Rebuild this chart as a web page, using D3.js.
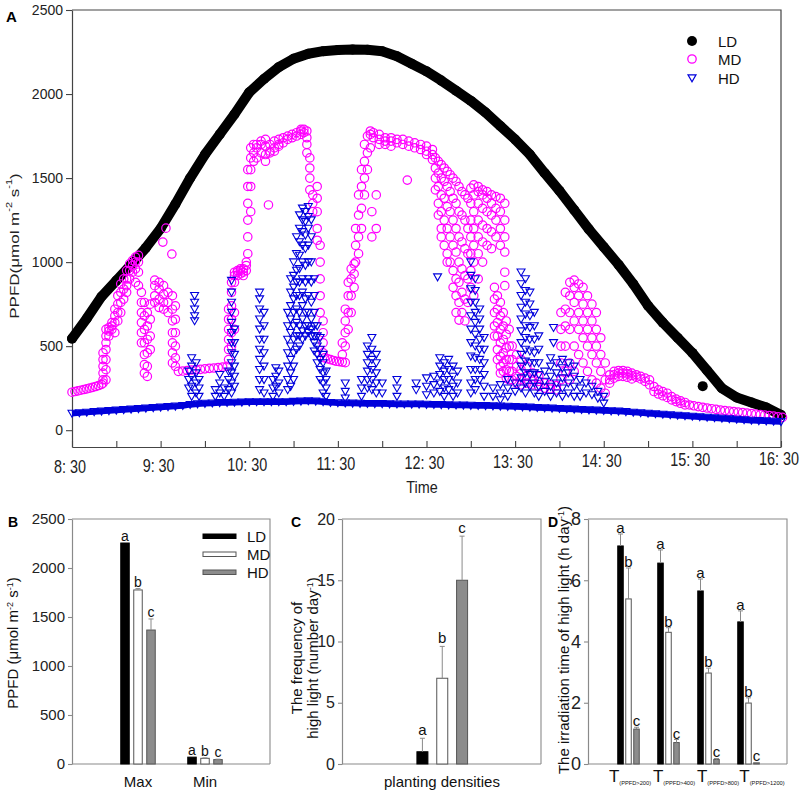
<!DOCTYPE html>
<html><head><meta charset="utf-8">
<script src="https://cdn.jsdelivr.net/npm/d3@7"></script>
<style>
body{margin:0;background:#fff;}
svg{font-family:"Liberation Sans", Arial, sans-serif;}
</style></head><body>
<svg id="c" width="800" height="810"></svg>
<script>
// ---------- DATA ----------
// Panel A: minutes after 8:30
const timeTicks = d3.range(0, 481, 30);
const timeLabels = ["8: 30","9: 30","10: 30","11: 30","12: 30","13: 30","14: 30","15: 30","16: 30"];
const ppfdTicks = [0,500,1000,1500,2000,2500];

const ldTrace = [[0,545],[10,665],[20,795],[30,890],[40,985],[50,1085],[60,1200],[70,1345],[80,1500],[90,1640],[100,1760],[110,1880],[120,2010],[130,2090],[140,2160],[150,2210],[160,2240],[170,2255],[180,2262],[190,2265],[200,2263],[210,2255],[220,2225],[230,2180],[240,2135],[250,2080],[260,2020],[270,1960],[280,1890],[290,1810],[300,1730],[310,1640],[320,1530],[330,1425],[340,1310],[350,1195],[360,1090],[370,985],[380,870],[390,740],[400,640],[410,550],[420,460],[430,355],[440,250],[450,195],[460,165],[470,135],[480,90]];
const ldOutliers = [[427,262]];

// [minute, value, value, ...]
const mdTrace = [
[0,226],[2,230],[4,234],[6,238],[8,242],[10,246],[12,250],[14,255],[16,260],[18,266],[20,272],[21,280,300,340,380,420,460],
[23,300,360,420,480,520,560,600],[25,560,590,610],[27,600,620,640],
[29,580,640,680,720],[31,650,700,750,800],[33,700,760,820,870],[35,780,840,900],[37,820,860,900,950],[39,900,950,990],[41,940,980,1010],[43,880,960,1000,1030],[45,860,940,1000,1040],
[47,520,580,640,700,760,820],[49,340,390,450,520,600,680,760],[51,320,380,460,540,620,700],[53,480,560,660,750],
[56,760,800,860,893],[59,730,780,840,880],[62,720,760,810,860],[65,700,760,820],[68,400,460,520,580,650,720,800],[70,380,430,500,580,660,740],
[61.5,1119],[63.6,1202],[67.6,1048],
[72,350],[75,352],[78,355],[81,358],[84,360],[87,362],[90,365],[93,368],[96,370],[99,373],[102,376],[105,380],
[106,420,480,540,600,660,720],[108,500,580,660,740,820,880],[110,600,700,880,920,940],
[112,920,940,950],[114,930,950,960],[116,920,940,960],[118,950,980,1000],
[119,1050,1150,1250,1350,1450,1550],[121,1300,1450,1550,1620,1680],[123,1600,1650,1700],[133,1340],
[125,1620,1680,1700],[128,1650,1700,1720],[131,1600,1640,1690,1730],[134,1650,1660,1700],[137,1660,1680,1720],[140,1690,1700,1730],[143,1710,1740],[146,1730,1750],[149,1740,1760],[152,1750,1770],[155,1760,1780,1790],[157,1770,1790],
[159,1650,1700,1740,1780],[161,1430,1500,1560,1620],[163,1300,1350,1400],[166,1130,1200,1300,1380,1450],[168,700,800,900,1000,1100],[170,460,520,580,650],
[171,430],[173,425],[175,420],[177,415],[179,410],[181,408],[183,405,450,520],[185,402,500,580,650,720],
[187,600,700,800,880],[189,700,800,900,960],[191,850,930,990],
[192,1000,1100,1200],[194,1050,1150,1280,1400],[196,1200,1320,1450,1550],[198,1400,1500,1600,1700],[200,1550,1650,1750],[202,1680,1760,1780],[204,1740,1770],[203,1150,1300],[206,1200,1400],
[208,1700,1730,1760],[212,1700,1720,1740],[216,1690,1720,1740],[220,1710,1730],[224,1700,1730],[228,1690,1720],[227,1488],[232,1680,1710],[236,1670,1700],[240,1640,1660,1690],[244,1610,1640,1670],
[246,1430,1500,1560,1620],[248,1280,1350,1450,1530,1600],[250,1150,1200,1300,1400,1500,1580],[252,1100,1250,1380,1480,1560],[254,1000,1050,1200,1330,1450,1540],[256,1000,1150,1300,1420,1520],[258,850,950,1100,1250,1380,1500],[260,700,800,900,1060,1200,1350,1480],
[262,655,760,880,1000,1150,1300,1450],[264,700,820,960,1120,1280,1420],[266,650,780,920,1080,1250,1400],[268,760,900,1050,1200,1380],
[270,850,950,1050,1150,1250,1350,1440],[272,800,1000,1100,1200,1300,1400,1460],[275,900,1050,1150,1250,1350,1420,1450],[278,1000,1120,1220,1320,1400,1430],[281,1100,1200,1300,1380,1420],[284,1080,1180,1280,1350,1400],[287,1150,1250,1320,1390],[290,1100,1200,1300,1380],[293,860,940,1060,1150,1250,1350],
[286,560,620,700,780,850],[288,420,480,560,640,720,800],[290,340,380,440,520,600,680,760],[292,350,400,460,540,620,700],[294,310,360,420,490,570,650],[296,300,350,420,500,600],
[298,300,350,420,500],[301,280,320,380,450],[304,270,300,360,420],[308,280,320,380],[312,270,300,340],[316,260,290,320],
[320,250,280],[324,245,270],[328,240,265],
[331,300,400,500,600,700],[334,350,500,620,720,820],[337,300,400,600,700,800,880],[340,350,500,650,760,850,893],[343,450,600,700,800,870],[346,400,550,650,750,850],[349,350,500,600,700,800],[352,300,450,550,650,750],[355,280,400,500,600,700],[358,250,350,450,550],[361,220,300,400],
[364,280,300,330],[367,310,330,350],[370,320,340,355],[373,320,340,355],[376,315,335,350],[379,305,325,340],[382,315,330],[385,305,320],[388,290,310],[391,270,300],
[394,230,260],[397,215,240],[400,205,230],[403,195,220],[406,180,200],[409,170,185],[412,160,175],[415,150,165],
[418,150],[421,145],[424,140],[427,136],[430,132],[433,128],[436,124],[439,120],[442,117],[445,114],[448,111],[451,108],[454,105],[457,102],[460,99],[463,96],[466,93],[469,90],[472,87],[475,84],[478,80],[481,76]
];

const hdBase = [[0,100],[5,103],[10,106],[15,109],[20,112],[25,115],[30,118],[35,121],[40,124],[45,127],[50,130],[55,133],[60,136],[65,139],[70,142],[75,146],[80,152],[85,156],[90,159],[95,161],[100,163],[105,164],[110,165],[115,166],[120,167],[125,168],[130,168],[135,168],[140,168],[145,168],[150,170],[155,172],[160,174],[165,172],[170,168],[175,164],[180,162],[185,161],[190,160],[195,159],[200,158],[205,157],[210,157],[215,156],[220,155],[225,155],[230,154],[235,154],[240,153],[245,152],[250,151],[255,150],[260,149],[265,148],[270,147],[275,146],[280,145],[285,144],[290,142],[295,141],[300,140],[305,138],[310,136],[315,134],[320,132],[325,130],[330,128],[335,126],[340,124],[345,122],[350,120],[355,118],[360,116],[365,114],[370,112],[375,109],[380,106],[385,103],[390,100],[395,97],[400,94],[405,91],[410,88],[415,85],[420,82],[425,79],[430,76],[435,73],[440,70],[445,67],[450,64],[455,61],[460,58],[465,56],[470,54],[475,52],[480,50]];

const hdSpikes = [
[79,250,300,350],[81,200,260,320,380,430],[83,650,680,720,760,800],[84,220,280,340,400],[86,200,250,300],
[97,200,240],[100,220,280,330],[103,200,250],[106,240,300,350],
[108,220,280,340,400,460,520,580,640,700,760,820,890],[110,260,320,380,450,520,600],
[127,240,300,360,420,480,540,600,660,720,780,820],[130,220,300,380,460,540,620,700],
[136,200,250,300],[138,260,320,370],[140,220,280,350],
[146,240,300,380,460,540,620,700],[148,260,340,420,500,580,660,740,820,900],[150,300,380,460,540,620,700,780,850,920,1000],[152,480,560,640,720,800,880,950,1050,1150],[154,500,560,620,700,800,880,960,1040,1120,1200,1280],[156,540,590,660,740,820,900,1000,1100,1180,1250,1320],[158,560,620,700,780,880,980,1080,1160,1240,1300],[160,580,620,700,800,900,1000,1100,1200,1270,1330],[162,560,600,660,760,880,1000,1150,1250],[164,470,520,560,620,700,800,900],[166,400,450,500,560,620],[168,300,360,420,480,550],[170,220,280,340,400,450],[172,200,250,300,350],
[185,190,230,280],
[196,200,250,300],[200,250,300,350,400,450,500],[203,240,300,360,420,480,550],[206,220,280,340,400,450],[210,220,280],
[220,200,250,300],
[233,240,280],[240,210,260,310],[245,220,270,320],[247.5,911],[249,230,280,330,380,430],[252,200,250,300,350,400],[255,240,300,360,420],[258,200,260,320,380],[261,220,280,350],
[270,220,280,360,440,520,600,680,760,840,920,1000],[273,240,300,360,430,500,570,640,700,760,830,900],[276,300,360,420,480,540,600,660,720],[279,200,260,330,400,480,550],
[285,200,250],[290,180,220,270],[295,200,250,300],[300,230,280],
[304,250,310,380,450,520,590,660,730,800,870,940],[307,220,280,340,410,480,550,620,690,760,830,900],[310,260,330,400,470,540,610,680,750,820],[313,220,280,340,400,460,540,620,700],[316,200,260,330,400,480,560],
[320,230,290,350],[324,200,260,320,380,430],[326,520,610],[328,220,280,340,400],[332,200,250,310,370,420],[336,220,280,340,400],[340,200,260,320,380],[344,200,250,300],[348,220,280],[352,210,260],[356,190,230],[360,160,200]
];

// Panel B
const bCats = ["Max","Min"];
const bLD = [2255, 70], bLDErr = [0, 0];
const bMD = [1776, 58], bMDErr = [14, 4];
const bHD = [1367, 45], bHDErr = [113, 4];
const bLetters = [["a","b","c"],["a","b","c"]];
const bTicks = [0,500,1000,1500,2000,2500];

// Panel C
const cLabels = ["LD","MD","HD"];
const cVal = [1, 7, 15], cErr = [1.1, 2.6, 3.6];
const cLetters = ["a","b","c"];
const cTicks = [0,5,10,15,20];

// Panel D
const dCats = ["(PPFD>200)","(PPFD>400)","(PPFD>800)","(PPFD>1200)"];
const dLD = [7.12, 6.56, 5.65, 4.64], dLDErr = [0.39, 0.43, 0.39, 0.36];
const dMD = [5.39, 4.30, 2.97, 1.99], dMDErr = [1.01, 0.15, 0.16, 0.17];
const dHD = [1.14, 0.70, 0.15, 0.04], dHDErr = [0.06, 0.10, 0.03, 0.01];
const dLetters = ["a","b","c"];
const dTicks = [0,2,4,6,8];

const series = ["LD","MD","HD"];
const barFill = {LD:"#000", MD:"#fff", HD:"#8c8c8c"};
const barStroke = {LD:"#000", MD:"#555", HD:"#555"};

// ---------- DRAW ----------
const FONT = "Liberation Sans, Arial, sans-serif";
const svg = d3.select("#c");
const flat = a => a.flatMap(([t, ...vs]) => vs.map(v => [t, v]));
const fmt = d3.format("d");

// ===== Panel A =====
const xA = d3.scaleLinear().domain([0,480]).range([72,781]);
const yA = d3.scaleLinear().domain([-100,2500]).range([447,10]);
const gA = svg.append("g");

const styleAxis = (g, col, fs) => {
  g.attr("font-family", FONT).attr("font-size", fs);
  g.select(".domain").attr("stroke", col).attr("stroke-width", 1.2);
  g.selectAll(".tick line").attr("stroke", col).attr("stroke-width", 1.1);
  g.selectAll(".tick text").attr("fill", "#222");
};

gA.append("path").attr("d","M72,10H781V447").attr("fill","none").attr("stroke","#444").attr("stroke-width",1.2);
const axAL = gA.append("g").attr("transform","translate(72,0)")
  .call(d3.axisLeft(yA).tickValues(ppfdTicks).tickFormat(fmt).tickSize(6).tickSizeOuter(0).tickPadding(3));
styleAxis(axAL, "#444", 14);
const axAB = gA.append("g").attr("transform","translate(0,447)")
  .call(d3.axisBottom(xA).tickValues(timeTicks).tickSizeInner(-6).tickSizeOuter(0).tickFormat(""));
styleAxis(axAB, "#444", 14);

timeLabels.forEach((s, i) => {
  gA.append("text").attr("transform", `translate(${xA(i*60) - 2},${466 - i}) scale(0.8,1)`)
    .attr("text-anchor","middle").attr("dominant-baseline","central")
    .attr("font-size",18).attr("fill","#222").text(s);
});
gA.append("text").attr("transform","translate(422,487) scale(0.9,1)").attr("text-anchor","middle")
  .attr("dominant-baseline","central").attr("font-size",16).attr("fill","#222").text("Time");

// y label A
{
  const t = gA.append("text").attr("transform","translate(18.5,246) scale(0.78,1) rotate(-90)")
    .attr("text-anchor","middle").attr("font-size",17).attr("fill","#222");
  t.append("tspan").text("PPFD(μmol m");
  t.append("tspan").attr("dy",-8).attr("font-size",11).text("-2");
  t.append("tspan").attr("dy",8).attr("font-size",17).text(" s");
  t.append("tspan").attr("dy",-8).attr("font-size",11).text("-1");
  t.append("tspan").attr("dy",8).attr("font-size",17).text(")");
}
gA.append("text").attr("x",6).attr("y",22).attr("font-size",15).attr("font-weight","bold").text("A");

// LD
const lineA = d3.line().x(d => xA(d[0])).y(d => yA(d[1])).curve(d3.curveLinear);
gA.append("path").datum(ldTrace).attr("d", lineA).attr("fill","none").attr("stroke","#000")
  .attr("stroke-width",10).attr("stroke-linecap","round").attr("stroke-linejoin","round");
gA.append("g").selectAll("circle").data(ldTrace.concat(ldOutliers)).join("circle")
  .attr("cx", d => xA(d[0])).attr("cy", d => yA(d[1])).attr("r",5).attr("fill","#000");

// MD
const MDC = "#f0f";
gA.append("g").selectAll("circle").data(flat(mdTrace)).join("circle")
  .attr("cx", d => xA(d[0])).attr("cy", d => yA(d[1])).attr("r",4.2)
  .attr("fill","none").attr("stroke",MDC).attr("stroke-width",1.2);

// HD
const HDC = "#0000dc";
const tri = "M-4,-3.2L4,-3.2L0,3.8Z";
gA.append("path").datum(hdBase).attr("d", lineA).attr("fill","none").attr("stroke",HDC)
  .attr("stroke-width",6).attr("stroke-linejoin","round");
gA.append("g").selectAll("path").data(hdBase.concat(flat(hdSpikes))).join("path")
  .attr("d", tri).attr("transform", d => `translate(${xA(d[0])},${yA(d[1])})`)
  .attr("fill","none").attr("stroke",HDC).attr("stroke-width",1.1);

// legend A
const legA = gA.append("g");
legA.append("circle").attr("cx",692).attr("cy",41).attr("r",5).attr("fill","#000");
legA.append("circle").attr("cx",692).attr("cy",59).attr("r",4.2).attr("fill","none").attr("stroke",MDC).attr("stroke-width",1.3);
legA.append("path").attr("d",tri).attr("transform","translate(692,78)").attr("fill","none").attr("stroke",HDC).attr("stroke-width",1.2);
series.forEach((s,i) => legA.append("text").attr("x",718).attr("y",[41,59,78][i])
  .attr("dominant-baseline","central").attr("font-size",15).attr("fill","#111").text(s));

// ===== generic bar helpers =====
function frame(g, l, r, t, b) {
  g.append("path").attr("d",`M${l},${t}H${r}V${b}`).attr("fill","none").attr("stroke","#8a8a8a").attr("stroke-width",1.1);
}
function bar(g, cx, w, y, v, err, s) {
  g.append("rect").attr("x", cx - w/2).attr("y", y(v)).attr("width", w).attr("height", y(0) - y(v))
    .attr("fill", barFill[s]).attr("stroke", barStroke[s]).attr("stroke-width", 1);
  if (err > 0) {
    g.append("line").attr("x1",cx).attr("x2",cx).attr("y1",y(v)).attr("y2",y(v+err)).attr("stroke","#8a8a8a").attr("stroke-width",1);
    g.append("line").attr("x1",cx-2.5).attr("x2",cx+2.5).attr("y1",y(v+err)).attr("y2",y(v+err)).attr("stroke","#8a8a8a").attr("stroke-width",1);
  }
}
function letter(g, cx, yy, s, fs) {
  g.append("text").attr("x",cx).attr("y",yy).attr("text-anchor","middle").attr("font-size",fs).attr("fill","#111").text(s);
}

// ===== Panel B =====
const gB = svg.append("g");
const yB = d3.scaleLinear().domain([0,2500]).range([764,519]);
const xB = d3.scalePoint().domain(bCats).range([138,205]);
const offB = d3.scaleBand().domain(series).range([-19.5,19.5]);
frame(gB, 72, 270, 519, 764);
const axBL = gB.append("g").attr("transform","translate(72,0)")
  .call(d3.axisLeft(yB).tickValues(bTicks).tickFormat(fmt).tickSize(4).tickSizeOuter(0).tickPadding(3));
styleAxis(axBL, "#8a8a8a", 15);
gB.append("line").attr("x1",72).attr("x2",270).attr("y1",764).attr("y2",764).attr("stroke","#8a8a8a").attr("stroke-width",1.1);
const bVals = {LD:bLD, MD:bMD, HD:bHD}, bErrs = {LD:bLDErr, MD:bMDErr, HD:bHDErr};
bCats.forEach((c, ci) => {
  series.forEach((s, si) => {
    const cx = xB(c) + offB(s) + offB.bandwidth()/2;
    bar(gB, cx, 8.5, yB, bVals[s][ci], bErrs[s][ci], s);
    letter(gB, cx, yB(bVals[s][ci] + bErrs[s][ci]) - 2, bLetters[ci][si], 14);
  });
  gB.append("text").attr("x", xB(c)).attr("y", 787).attr("text-anchor","middle").attr("font-size",15).attr("fill","#111").text(c);
});
series.forEach((s, i) => {
  gB.append("rect").attr("x",203).attr("y",534 + i*18).attr("width",33).attr("height",4.5)
    .attr("fill",barFill[s]).attr("stroke",barStroke[s]).attr("stroke-width",1);
  gB.append("text").attr("x",247).attr("y",536 + i*18).attr("dominant-baseline","central").attr("font-size",15).attr("fill","#111").text(s);
});
{
  const t = gB.append("text").attr("transform","translate(18,643) rotate(-90)").attr("text-anchor","middle").attr("font-size",15).attr("fill","#111");
  t.append("tspan").text("PPFD (μmol m");
  t.append("tspan").attr("dy",-5).attr("font-size",9).text("-2");
  t.append("tspan").attr("dy",5).attr("font-size",15).text(" s");
  t.append("tspan").attr("dy",-5).attr("font-size",9).text("-1");
  t.append("tspan").attr("dy",5).attr("font-size",15).text(")");
}
gB.append("text").attr("x",8).attr("y",527).attr("font-size",14).attr("font-weight","bold").text("B");

// ===== Panel C =====
const gC = svg.append("g");
const yC = d3.scaleLinear().domain([0,20]).range([764,519]);
const xC = d3.scaleBand().domain(cLabels).range([412.5,472]);
frame(gC, 342, 541, 519, 764);
const axCL = gC.append("g").attr("transform","translate(342,0)")
  .call(d3.axisLeft(yC).tickValues(cTicks).tickFormat(fmt).tickSize(4).tickSizeOuter(0).tickPadding(3));
styleAxis(axCL, "#8a8a8a", 16);
gC.append("line").attr("x1",342).attr("x2",541).attr("y1",764).attr("y2",764).attr("stroke","#8a8a8a").attr("stroke-width",1.1);
cLabels.forEach((s, i) => {
  const cx = xC(s) + xC.bandwidth()/2;
  bar(gC, cx, 11, yC, cVal[i], cErr[i], s);
  letter(gC, cx, yC(cVal[i] + cErr[i]) - 3, cLetters[i], 15);
});
gC.append("text").attr("x",442).attr("y",787).attr("text-anchor","middle").attr("font-size",15).attr("fill","#111").text("planting densities");
gC.append("text").attr("transform","translate(302,658) rotate(-90)").attr("text-anchor","middle").attr("font-size",15).attr("fill","#111").text("The frequency of");
{
  const t = gC.append("text").attr("transform","translate(318,658) rotate(-90)").attr("text-anchor","middle").attr("font-size",15).attr("fill","#111");
  t.append("tspan").text("high light (number day");
  t.append("tspan").attr("dy",-5).attr("font-size",9).text("-1");
  t.append("tspan").attr("dy",5).attr("font-size",15).text(")");
}
gC.append("text").attr("x",291).attr("y",527).attr("font-size",14).attr("font-weight","bold").text("C");

// ===== Panel D =====
const gD = svg.append("g");
const yD = d3.scaleLinear().domain([0,8]).range([764,519]);
const xD = d3.scalePoint().domain(dCats).range([628.5,748.5]);
const xDlab = d3.scalePoint().domain(dCats).range([630,762]);
frame(gD, 588, 787, 519, 764);
const axDL = gD.append("g").attr("transform","translate(588,0)")
  .call(d3.axisLeft(yD).tickValues(dTicks).tickFormat(fmt).tickSize(4).tickSizeOuter(0).tickPadding(3));
styleAxis(axDL, "#8a8a8a", 18);
gD.append("line").attr("x1",588).attr("x2",787).attr("y1",764).attr("y2",764).attr("stroke","#8a8a8a").attr("stroke-width",1.1);
const dVals = {LD:dLD, MD:dMD, HD:dHD}, dErrs = {LD:dLDErr, MD:dMDErr, HD:dHDErr};
dCats.forEach((c, ci) => {
  series.forEach((s, si) => {
    const cx = xD(c) + (si - 1) * 8;
    bar(gD, cx, 5.5, yD, dVals[s][ci], dErrs[s][ci], s);
    letter(gD, cx, yD(dVals[s][ci] + dErrs[s][ci]) - 1, dLetters[si], 15);
  });
  const t = gD.append("text").attr("x", xDlab(c)).attr("y", 782).attr("text-anchor","middle").attr("fill","#111");
  t.append("tspan").attr("font-size",17).text("T");
  t.append("tspan").attr("font-size",5.7).attr("dy",3).text(c);
});
{
  const t = gD.append("text").attr("transform","translate(568.5,640) rotate(-90)").attr("text-anchor","middle").attr("font-size",15).attr("fill","#111");
  t.append("tspan").text("The irradiation time of high light (h day");
  t.append("tspan").attr("dy",-5).attr("font-size",9).text("-1");
  t.append("tspan").attr("dy",5).attr("font-size",15).text(")");
}
gD.append("text").attr("x",548).attr("y",527).attr("font-size",14).attr("font-weight","bold").text("D");
</script></body></html>
